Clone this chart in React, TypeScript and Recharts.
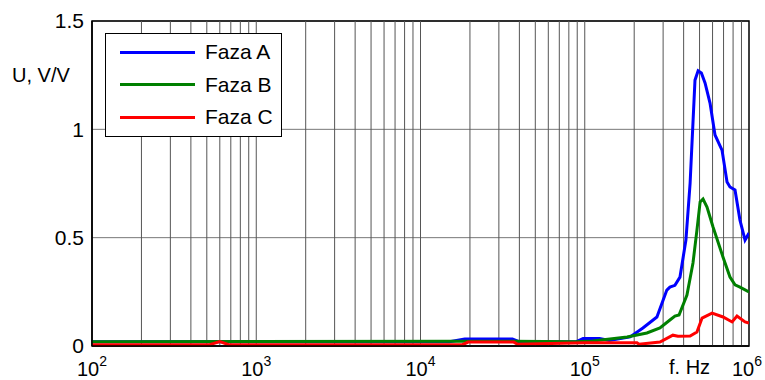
import {
  LineChart,
  Line,
  XAxis,
  YAxis,
  CartesianGrid,
  ReferenceLine,
  ReferenceArea,
} from "recharts";

// Frequency response of three phases (log frequency axis)
const freqA = [
  100, 15000, 18600, 36300, 39800, 89100, 97700, 123000, 141000, 188800,
  226000, 275000, 316000, 330000, 354000, 380000, 413000, 438000, 469000,
  490000, 513000, 540000, 579000, 621000, 685000, 735000, 766000, 822000,
  881000, 946000, 1000000,
];
const valuesA = [
  0.02, 0.02, 0.032, 0.032, 0.02, 0.02, 0.035, 0.035, 0.025, 0.042, 0.083,
  0.134, 0.258, 0.272, 0.28, 0.318, 0.489, 0.752, 1.227, 1.27, 1.26, 1.214,
  1.121, 0.974, 0.904, 0.757, 0.734, 0.72, 0.581, 0.489, 0.521,
];

const freqB = [
  100, 18600, 36300, 89100, 112000, 181000, 239000, 287000, 330000, 354000,
  375000, 419000, 456000, 482000, 504000, 525000, 555000, 604000, 695000,
  766000, 822000, 881000, 1000000,
];
const valuesB = [
  0.02, 0.022, 0.022, 0.02, 0.023, 0.042, 0.06, 0.083, 0.12, 0.138, 0.143,
  0.235, 0.383, 0.535, 0.665, 0.678, 0.641, 0.549, 0.41, 0.318, 0.282, 0.272,
  0.249,
];

const freqC = [
  100, 520, 600, 680, 18000, 19500, 37000, 39000, 100000, 208000, 214000,
  287000, 344000, 369000, 438000, 482000, 518000, 596000, 695000, 789000,
  845000, 946000, 1000000,
];
const valuesC = [
  0.006, 0.006, 0.02, 0.006, 0.006, 0.018, 0.018, 0.008, 0.015, 0.015, 0.008,
  0.018, 0.05, 0.045, 0.046, 0.065, 0.129, 0.152, 0.134, 0.111, 0.138, 0.111,
  0.106,
];

const seriesNames = ["Faza A", "Faza B", "Faza C"];
const seriesColors = ["#0000ff", "#008000", "#ff0000"];

const xTicks = [100, 1000, 10000, 100000, 1000000];
const xTickExponents = ["2", "3", "4", "5", "6"];
const yTicks = [0, 0.5, 1, 1.5];
const yTickLabels = ["0", "0.5", "1", "1.5"];
const gridFreqs = [
  200, 300, 400, 500, 600, 700, 800, 900, 1000, 2000, 3000, 4000, 5000, 6000,
  7000, 8000, 9000, 10000, 20000, 30000, 40000, 50000, 60000, 70000, 80000,
  90000, 100000, 200000, 300000, 400000, 500000, 600000, 700000, 800000,
  900000,
];

const toPoints = (fs: number[], vs: number[]) =>
  fs.map((f, i) => ({ f, v: vs[i] }));

const dataA = toPoints(freqA, valuesA);
const dataB = toPoints(freqB, valuesB);
const dataC = toPoints(freqC, valuesC);

const FONT = "'Liberation Sans', Arial, sans-serif";

const PowerTick = (props: any) => {
  const { x, y, index } = props;
  // last label sits on the right edge, nudge it inside the picture
  const shift = index === xTickExponents.length - 1 ? -2 : 0;
  return (
    <text x={x + shift} y={y + 30} textAnchor="middle" fontSize={20} fontFamily={FONT} fill="#000">
      <tspan>10</tspan>
      <tspan dy={-10} fontSize={14}>
        {xTickExponents[index]}
      </tspan>
    </text>
  );
};

const LegendBox = () => (
  <div
    style={{
      position: "absolute",
      left: 105,
      top: 33,
      width: 175,
      height: 102,
      border: "1px solid #000",
      background: "#fff",
      fontFamily: FONT,
      fontSize: 21,
      color: "#000",
    }}
  >
    {seriesNames.map((name, i) => (
      <div
        key={name}
        style={{ display: "flex", alignItems: "center", height: 32.5, marginTop: i === 0 ? 2 : 0 }}
      >
        <div style={{ width: 75, height: 3, background: seriesColors[i], marginLeft: 14, marginRight: 10 }} />
        <span>{name}</span>
      </div>
    ))}
  </div>
);

export default function App() {
  return (
    <div style={{ position: "fixed", left: 0, top: 0, width: 765, height: 380, background: "#fff" }}>
      <LineChart width={765} height={380} margin={{ top: 21, right: 16, bottom: 0, left: 0 }}>
        <CartesianGrid vertical={false} stroke="#777" strokeWidth={1} />
        {gridFreqs.map((g) => (
          <ReferenceLine key={g} x={g} stroke="#555" strokeWidth={1} />
        ))}
        <XAxis
          dataKey="f"
          type="number"
          scale="log"
          domain={[100, 1000000]}
          allowDataOverflow
          ticks={xTicks}
          tick={<PowerTick />}
          tickLine={false}
          tickSize={0}
          tickMargin={0}
          height={34}
          axisLine={{ stroke: "#000", strokeWidth: 1.5 }}
          interval={0}
          label={() => (
            <text x={669} y={374} fontSize={20} fontFamily={FONT} fill="#000">
              f. Hz
            </text>
          )}
        />
        <YAxis
          type="number"
          domain={[0, 1.5]}
          ticks={yTicks}
          tickFormatter={(v, i) => yTickLabels[i]}
          tick={{ fill: "#000", fontSize: 21, fontFamily: FONT }}
          tickLine={false}
          tickSize={0}
          tickMargin={8}
          width={92}
          axisLine={{ stroke: "#000", strokeWidth: 1.5 }}
          label={() => (
            <text x={12} y={82} fontSize={20} fontFamily={FONT} fill="#000">
              U, V/V
            </text>
          )}
        />
        <Line
          data={dataA}
          dataKey="v"
          name={seriesNames[0]}
          stroke={seriesColors[0]}
          strokeWidth={3}
          dot={false}
          isAnimationActive={false}
        />
        <Line
          data={dataB}
          dataKey="v"
          name={seriesNames[1]}
          stroke={seriesColors[1]}
          strokeWidth={3}
          dot={false}
          isAnimationActive={false}
        />
        <Line
          data={dataC}
          dataKey="v"
          name={seriesNames[2]}
          stroke={seriesColors[2]}
          strokeWidth={3}
          dot={false}
          isAnimationActive={false}
        />
        <ReferenceArea
          x1={100}
          x2={1000000}
          y1={0}
          y2={1.5}
          fill="none"
          stroke="#000"
          strokeWidth={1.5}
          ifOverflow="visible"
        />
      </LineChart>
      <LegendBox />
    </div>
  );
}
